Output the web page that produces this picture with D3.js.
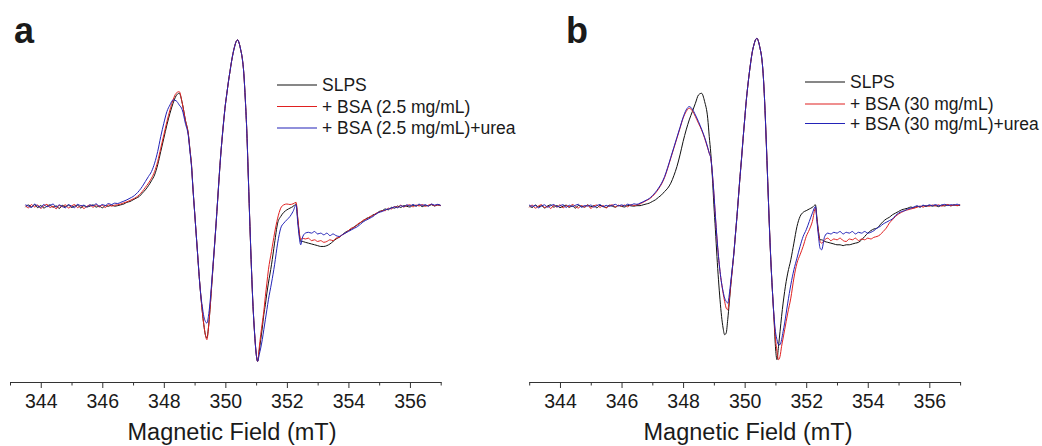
<!DOCTYPE html>
<html>
<head>
<meta charset="utf-8">
<script src="https://cdn.jsdelivr.net/npm/d3@7"></script>
<style>
  body { margin: 0; background: #fff; }
  text { font-family: "Liberation Sans", Arial, sans-serif; fill: #1a1a1a; }
</style>
</head>
<body>
<svg id="chart" width="1042" height="446"></svg>
<script>
// magnetic field grid (mT), shared by every trace
var field = [
  343.0, 343.1, 343.2, 343.3, 343.4, 343.5, 343.6, 343.7, 343.8, 343.9,
  344.0, 344.1, 344.2, 344.3, 344.4, 344.5, 344.6, 344.7, 344.8, 344.9,
  345.0, 345.1, 345.2, 345.3, 345.4, 345.5, 345.6, 345.7, 345.8, 345.9,
  346.0, 346.1, 346.2, 346.3, 346.4, 346.5, 346.6, 346.7, 346.8, 346.9,
  347.0, 347.1, 347.2, 347.3, 347.4, 347.5, 347.6, 347.7, 347.8, 347.9,
  348.0, 348.1, 348.2, 348.3, 348.4, 348.5, 348.6, 348.7, 348.8, 348.85,
  348.9, 348.95, 349.0, 349.05, 349.1, 349.15, 349.2, 349.25, 349.3, 349.35,
  349.4, 349.45, 349.5, 349.55, 349.6, 349.65, 349.7, 349.75, 349.8, 349.85,
  349.9, 349.95, 350.0, 350.05, 350.1, 350.15, 350.2, 350.25, 350.3, 350.35,
  350.4, 350.45, 350.5, 350.55, 350.6, 350.65, 350.7, 350.75, 350.8, 350.85,
  350.9, 350.95, 351.0, 351.05, 351.1, 351.15, 351.2, 351.25, 351.3, 351.35,
  351.4, 351.5, 351.6, 351.7, 351.8, 351.9, 352.0, 352.1, 352.2, 352.3,
  352.35, 352.4, 352.45, 352.5, 352.6, 352.7, 352.8, 352.9, 353.0, 353.1,
  353.2, 353.3, 353.4, 353.5, 353.6, 353.7, 353.8, 353.9, 354.0, 354.1,
  354.2, 354.3, 354.4, 354.5, 354.6, 354.7, 354.8, 354.9, 355.0, 355.1,
  355.2, 355.3, 355.4, 355.5, 355.6, 355.7, 355.8, 355.9, 356.0, 356.1,
  356.2, 356.3, 356.4, 356.5, 356.6, 356.7, 356.8, 356.9, 357.0
];

// panel a
var aSlps = [
  null, null, null, null, null, -0.4, 0.9, -0.2, 1.1, -0.7,
  0.6, -0.9, 0.2, 1.0, -0.5, 0.4, -1.2, 0.7, -0.1, 0.9,
  -0.6, 0.3, 0.8, -0.9, 0.5, -0.2, 0.2, 1.0, -0.4, 0.3,
  -0.8, 0.5, 0.1, 0.9, 0.2, 0.5, 1.0, 1.5, 2.5, 3.0,
  4, 5, 6, 8, 10, 12.5, 15.5, 19, 25, 33,
  41, 49, 56, 62, 66.5, 68, 62, 52, 43, 34,
  25, 10, -3, -16, -29, -42, -53, -63, -71, -77,
  -79, -73, -62, -49, -36, -23, -10, 4, 18, 31,
  42, 52, 61, 68, 75, 81, 87, 92, 96, 99,
  100, 98, 94, 89, 80, 64, 44, 16, -12, -38,
  -60, -76, -88, -93, -87, -80, -73, -65, -59, -52,
  -46, -35, -22, -10, -6, -3.5, -2, -1, 0, 1.5,
  -7, -16, -21, -21, -21.5, -22, -22.5, -23, -23.5, -24,
  -24, -23.5, -22.5, -21, -19.5, -18.5, -17, -15.5, -14.5, -13.5,
  -12, -11, -9.5, -8.5, -7, -6.5, -5, -4.5, -3, -2.5,
  -1.5, -2, -0.5, -1, 0.3, -0.6, 0.5, 0.1, -0.3, 0.8,
  0.2, 1.0, -0.1, 0.7, 0.4, 1.1, 0.3, 0.9, 0.5
];
var aBsa = [
  null, null, null, null, null, 0.5, -0.8, 1.2, -0.3, 0.9,
  -1.1, 0.4, 1.3, -0.6, 0.2, -1.4, 0.8, -0.2, 1.0, -0.9,
  0.3, 1.2, -0.7, 0.6, -1.2, 0.1, 0.9, -0.5, 1.1, -0.3,
  0.7, -0.6, 1.0, 0.2, 0.8, 1.0, 1.5, 2.2, 2.8, 3.6,
  4.5, 5.5, 7, 9, 11.5, 14, 17, 21, 27, 35,
  43, 51, 58, 64, 68, 69, 62, 52, 43, 34,
  25, 10, -3, -16, -29, -42, -53, -63, -71, -77,
  -80, -73, -62, -49, -36, -23, -10, 4, 18, 31,
  42, 52, 61, 68, 75, 81, 87, 92, 96, 99,
  100, 98, 94, 89, 80, 64, 44, 16, -12, -38,
  -60, -76, -88, -93, -85, -77, -70, -63, -54, -46,
  -38, -27, -16, -7, -1, 1, 1.5, 1.2, 1.6, 2.5,
  -6, -15, -20, -19, -19.5, -19, -20.5, -20, -21, -20.5,
  -21.5, -21, -20, -20.5, -19, -18.5, -17, -16, -14.5, -13,
  -12.5, -10.5, -9.5, -8, -7.5, -6, -5.5, -4, -3.5, -2.5,
  -2.5, -1, -1.5, 0, -0.5, 0.8, -0.3, 0.6, 1.0, -0.2,
  0.9, 0.3, 1.2, 0.1, 0.8, 1.3, 0.4, 1.0, 0.6
];
var aUrea = [
  null, null, null, null, null, 1.0, 0.2, -0.6, 1.4, 0.3,
  -0.5, 1.2, -0.2, 0.6, 1.5, -0.4, 0.9, 0.1, -0.8, 1.1,
  0.2, -0.7, 1.3, 0.4, 0.8, -0.3, 1.0, 0.5, 1.6, 0.2,
  1.2, 0.6, 1.8, 1.1, 2.0, 1.8, 2.5, 3.2, 4.0, 5.0,
  6, 7.5, 9.5, 12, 15, 18, 21, 26, 33, 42,
  50, 57, 61, 64, 63.5, 61, 58, 50, 42, 33,
  24, 10, -3, -16, -29, -42, -53, -60, -66, -69,
  -70, -66, -58, -47, -35, -23, -10, 4, 18, 31,
  42, 52, 61, 68, 75, 81, 87, 92, 96, 99,
  100, 98, 94, 89, 80, 64, 44, 16, -12, -38,
  -60, -76, -88, -93, -89, -85, -80, -74, -68, -62,
  -56, -46, -35, -22, -13, -10, -8, -6, -3, 1,
  -9, -18, -23, -19, -16, -15.5, -16, -15, -16.5, -16,
  -17, -16, -17.5, -16.5, -17.5, -18, -17, -16, -15, -14,
  -13, -12, -10.5, -9, -8, -7, -6, -4.5, -3.5, -3,
  -2, -1.5, -1, -0.2, -0.8, 0.5, -0.1, 1.0, 0.3, 1.2,
  0.4, 1.4, 0.6, 1.1, 0.2, 1.5, 0.8, 1.3, 0.7
];

// panel b
var bSlps = [
  0.4, -0.6, 0.9, -0.2, 0.5, -0.9, 0.3, 1.0, -0.4, 0.6,
  -0.7, 0.2, 0.8, -0.5, 0.4, -1.0, 0.6, 0.1, -0.3, 0.9,
  -0.2, 0.5, -0.8, 0.7, 0.0, -0.6, 0.8, 0.2, -0.4, 0.6,
  0.1, -0.3, 0.7, 0.4, 0.2, 0.5, 0.5, 1.0, 1.5, 2.0,
  3, 4, 5.5, 7, 9, 11, 14, 18.5, 24, 31,
  39, 46, 52, 57, 62, 67, 68, 63, 53, 42,
  32, 18, 1, -14, -30, -44, -56, -66, -73, -77,
  -76, -68, -58, -47, -37, -28, -17, -6, 6, 18,
  29, 41, 52, 63, 72, 80, 87, 93, 97, 100,
  101, 99, 95, 90, 80, 63, 40, 15, -10, -32,
  -50, -66, -84, -92, -84, -75, -66, -58, -51, -45,
  -40, -32, -22, -12, -6, -3.5, -2.5, -1.5, -0.5, 1,
  -7, -15, -20, -20, -21, -21.5, -22, -22.5, -23, -23,
  -23.5, -23, -23, -22.5, -22, -21.5, -20, -18, -16, -14.5,
  -13.5, -13, -11, -9, -7.5, -6.5, -5, -4, -3, -2,
  -1.5, -1, -0.3, -0.8, 0.2, -0.4, 0.5, 0.0, 0.7, 0.2,
  0.6, -0.1, 0.8, 0.3, 0.9, 0.4, 1.0, 0.5, 0.8
];
var bBsa = [
  -0.5, 0.8, -1.0, 0.3, 1.1, -0.6, 0.2, -1.2, 0.7, -0.3,
  1.0, -0.8, 0.4, -0.2, 1.2, 0.1, -0.9, 0.6, -0.4, 0.9,
  -1.1, 0.3, 0.9, -0.5, 0.6, -0.9, 0.4, 1.0, -0.3, 0.8,
  0.2, 0.9, -0.2, 1.1, 0.6, 1.0, 1.5, 2.5, 3.5, 4.5,
  6, 8, 10.5, 13.5, 17.5, 23, 29, 35, 41, 47,
  53, 57, 59, 57.5, 54, 50, 46, 41, 35, 32,
  29, 20, 8, -6, -19, -30, -39, -46, -52, -57,
  -61, -62, -56, -47, -38, -28, -17, -6, 6, 18,
  29, 41, 52, 63, 72, 80, 87, 93, 97, 100,
  101, 99, 95, 90, 80, 63, 40, 15, -10, -32,
  -50, -66, -79, -87, -92, -90, -84, -79, -74, -69,
  -64, -55, -43, -34, -29, -24, -18, -14, -9, -1,
  -8, -16, -21, -22, -20, -19, -20.5, -19.5, -20, -19,
  -20.5, -21, -19.5, -20, -19, -20.5, -19.5, -20, -19, -19.5,
  -18.5, -18, -17, -15, -13, -10, -8, -6, -4.5, -3.5,
  -2.5, -2, -1.5, -1, -0.5, 0.3, -0.4, 0.6, 0.1, 0.9,
  0.3, 1.0, 0.2, 0.8, 1.2, 0.4, 0.9, 0.5, 1.1
];
var bUrea = [
  0.9, 0.1, 0.6, -0.8, 0.3, 1.0, -0.4, 0.5, 1.2, -0.2,
  0.4, 1.1, -0.6, 0.8, 0.0, 0.7, 1.3, -0.5, 0.6, 0.2,
  0.9, -0.4, 0.5, 1.2, -0.2, 0.7, 0.1, 0.6, 1.3, 0.3,
  1.0, 0.4, 1.4, 0.8, 1.6, 1.3, 2.0, 2.8, 3.8, 4.8,
  6.5, 8.5, 11, 14, 18, 23.5, 29.5, 35.5, 41.5, 47.5,
  53.5, 58, 60, 58.5, 55, 51, 46.5, 41.5, 35.5, 32,
  29, 20, 8, -6, -19, -30, -39, -46, -51, -55,
  -57, -58, -53, -45, -37, -28, -17, -6, 6, 18,
  29, 41, 52, 63, 72, 80, 87, 93, 97, 100,
  101, 99, 95, 90, 80, 63, 40, 15, -10, -32,
  -50, -65, -75, -80, -83, -83, -80, -75, -70, -64,
  -58, -47, -38, -31, -24, -18, -14, -9, -4, 0,
  -9, -18, -25, -26, -18, -16, -16.5, -15.5, -16, -15,
  -16.5, -15.5, -16, -15, -16.5, -15.5, -16, -15, -16, -15.5,
  -14.5, -13, -12, -10.5, -9.5, -8.5, -7.5, -5.5, -4, -3,
  -2.5, -1.5, -1.0, -0.3, 0.4, -0.2, 0.8, 0.3, 1.0, 0.5,
  1.2, 0.4, 0.9, 1.3, 0.6, 1.1, 0.8, 1.4, 0.7
];

var namesA = ["SLPS", "+ BSA (2.5 mg/mL)", "+ BSA (2.5 mg/mL)+urea"];
var namesB = ["SLPS", "+ BSA (30 mg/mL)", "+ BSA (30 mg/mL)+urea"];
var colors = ["#111111", "#e02020", "#2323b8"];
var majorTicks = [344, 346, 348, 350, 352, 354, 356];
var minorTicks = [343, 345, 347, 349, 351, 353, 355, 357];
var xTitle = "Magnetic Field (mT)";

var svg = d3.select("#chart");

var panels = [
  { label: "a", labelX: 14, xRange: [10, 440.7], legendX: 277, legendY: [85, 106.5, 128],
    titleX: 232, series: [aSlps, aBsa, aUrea], names: namesA },
  { label: "b", labelX: 566, xRange: [529.2, 960.1], legendX: 805, legendY: [82, 104, 123.5],
    titleX: 748, series: [bSlps, bBsa, bUrea], names: namesB }
];

var axisY = 382;

// intensity is in arbitrary units, baseline at 0
var y = d3.scaleLinear().domain([-100, 100]).range([373, 40]);

panels.forEach(function(p) {
  var x = d3.scaleLinear().domain([343, 357]).range(p.xRange);
  var g = svg.append("g");

  // minor ticks
  g.append("g")
    .attr("transform", `translate(0, ${axisY})`)
    .call(d3.axisBottom(x).tickValues(minorTicks).tickSize(3.5).tickSizeOuter(0).tickFormat(""))
    .call(s => s.selectAll("line, path").attr("stroke", "#333"));

  // major ticks + labels
  g.append("g")
    .attr("transform", `translate(0, ${axisY})`)
    .call(d3.axisBottom(x).tickValues(majorTicks).tickSize(6).tickSizeOuter(0).tickPadding(6))
    .call(s => s.selectAll("line, path").attr("stroke", "#333"))
    .call(s => s.selectAll("text")
      .attr("font-size", "19.5px")
      .attr("font-family", "'Liberation Sans', Arial, sans-serif")
      .attr("fill", "#1a1a1a"));

  g.append("text")
    .attr("x", p.titleX)
    .attr("y", 439.5)
    .attr("text-anchor", "middle")
    .attr("font-size", "23.5px")
    .text(xTitle);

  g.append("text")
    .attr("x", p.labelX)
    .attr("y", 43)
    .attr("font-size", "36px")
    .attr("font-weight", "bold")
    .text(p.label);

  var line = d3.line()
    .defined(d => d[1] !== null)
    .x(d => x(d[0]))
    .y(d => y(d[1]))
    .curve(d3.curveMonotoneX);

  p.series.forEach(function(vals, i) {
    g.append("path")
      .datum(field.map((f, k) => [f, vals[k]]))
      .attr("fill", "none")
      .attr("stroke", colors[i])
      .attr("stroke-width", 1)
      .attr("d", line);
  });

  // legend
  p.names.forEach(function(name, i) {
    var ly = p.legendY[i];
    g.append("line")
      .attr("x1", p.legendX).attr("x2", p.legendX + 40)
      .attr("y1", ly).attr("y2", ly)
      .attr("stroke", colors[i])
      .attr("stroke-width", 1.2);
    g.append("text")
      .attr("x", p.legendX + 45)
      .attr("y", ly + 6.3)
      .attr("font-size", "17.5px")
      .text(name);
  });
});
</script>
</body>
</html>
